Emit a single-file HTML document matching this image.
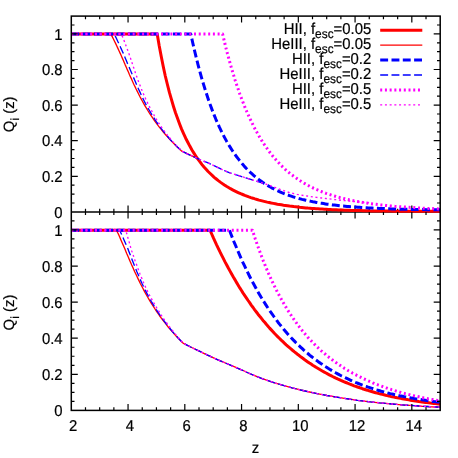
<!DOCTYPE html>
<html><head><meta charset="utf-8"><title>Q_i(z)</title>
<style>html,body{margin:0;padding:0;background:#fff;}body{width:458px;height:458px;position:relative;overflow:hidden;font-family:"Liberation Sans",sans-serif;}</style></head>
<body>
<svg width="458" height="458" viewBox="0 0 458 458" style="position:absolute;left:0;top:0;will-change:transform">
<defs><clipPath id="ct"><rect x="71.3" y="16.1" width="369.5" height="197.3"/></clipPath><clipPath id="cb"><rect x="71.3" y="211.9" width="369.5" height="200.0"/></clipPath></defs>
<line x1="71.3" y1="211.9" x2="440.2" y2="211.9" stroke="#000" stroke-width="1.5"/>
<path d="M85.49,211.9 v-3.2 M99.68,211.9 v-3.2 M113.87,211.9 v-3.2 M128.05,211.9 v-6.5 M142.24,211.9 v-3.2 M156.43,211.9 v-3.2 M170.62,211.9 v-3.2 M184.81,211.9 v-6.5 M199.00,211.9 v-3.2 M213.19,211.9 v-3.2 M227.37,211.9 v-3.2 M241.56,211.9 v-6.5 M255.75,211.9 v-3.2 M269.94,211.9 v-3.2 M284.13,211.9 v-3.2 M298.32,211.9 v-6.5 M312.50,211.9 v-3.2 M326.69,211.9 v-3.2 M340.88,211.9 v-3.2 M355.07,211.9 v-6.5 M369.26,211.9 v-3.2 M383.45,211.9 v-3.2 M397.64,211.9 v-3.2 M411.82,211.9 v-6.5 M426.01,211.9 v-3.2" stroke="#000" stroke-width="1.2" fill="none"/>
<g clip-path="url(#ct)" fill="none" stroke-linejoin="round">
<path d="M71.3,34.0 L157.2,34.0 L159.2,45.8 L161.3,56.7 L163.3,66.7 L165.3,76.0 L167.4,84.5 L169.4,92.4 L171.5,99.7 L173.5,106.5 L175.5,112.8 L177.6,118.6 L179.6,124.0 L181.6,129.1 L183.7,133.8 L185.7,138.2 L187.8,142.3 L189.8,146.1 L191.8,149.7 L193.9,153.1 L195.9,156.2 L197.9,159.2 L200.0,161.9 L202.0,164.6 L204.0,167.0 L206.1,169.3 L208.1,171.5 L210.2,173.5 L212.2,175.4 L214.2,177.3 L216.3,179.0 L218.3,180.6 L220.3,182.1 L222.4,183.6 L224.4,185.0 L226.4,186.3 L228.5,187.5 L230.5,188.7 L232.6,189.8 L234.6,190.8 L236.6,191.8 L238.7,192.8 L240.7,193.7 L242.7,194.5 L244.8,195.4 L246.8,196.1 L248.9,196.9 L250.9,197.6 L252.9,198.2 L255.0,198.9 L257.0,199.5 L259.0,200.1 L261.1,200.6 L263.1,201.1 L265.1,201.6 L267.2,202.1 L269.2,202.5 L271.3,203.0 L273.3,203.4 L275.3,203.8 L277.4,204.2 L279.4,204.5 L281.4,204.8 L283.5,205.2 L285.5,205.5 L287.5,205.8 L289.6,206.1 L291.6,206.3 L293.7,206.6 L295.7,206.8 L297.7,207.0 L299.8,207.3 L301.8,207.5 L303.8,207.7 L305.9,207.9 L307.9,208.1 L310.0,208.2 L312.0,208.4 L314.0,208.5 L316.1,208.7 L318.1,208.8 L320.1,209.0 L322.2,209.1 L324.2,209.2 L326.2,209.3 L328.3,209.5 L330.3,209.6 L332.4,209.7 L334.4,209.8 L336.4,209.8 L338.5,209.9 L340.5,210.0 L342.5,210.1 L344.6,210.2 L346.6,210.2 L348.6,210.3 L350.7,210.4 L352.7,210.4 L354.8,210.5 L356.8,210.5 L358.8,210.6 L360.9,210.6 L362.9,210.7 L364.9,210.7 L367.0,210.8 L369.0,210.8 L371.1,210.9 L373.1,210.9 L375.1,210.9 L377.2,211.0 L379.2,211.0 L381.2,211.0 L383.3,211.0 L385.3,211.1 L387.3,211.1 L389.4,211.1 L391.4,211.1 L393.5,211.2 L395.5,211.2 L397.5,211.2 L399.6,211.2 L401.6,211.2 L403.6,211.2 L405.7,211.3 L407.7,211.3 L409.7,211.3 L411.8,211.3 L413.8,211.3 L415.9,211.3 L417.9,211.3 L419.9,211.3 L422.0,211.3 L424.0,211.3 L426.0,211.3 L428.1,211.3 L430.1,211.3 L432.2,211.3 L434.2,211.3 L436.2,211.3 L438.3,211.3 L440.3,211.3" stroke="#ff0000" stroke-width="3.0"/>
<path d="M71.3,34.0 L110.9,34.0 L112.1,36.4 L113.3,38.8 L114.5,41.2 L115.7,43.6 L116.8,46.0 L117.9,48.4 L119.0,50.7 L120.1,53.1 L121.2,55.5 L122.2,57.9 L123.3,60.3 L124.3,62.7 L125.3,65.1 L126.4,67.5 L127.4,69.9 L128.5,72.3 L129.5,74.7 L130.6,77.1 L131.7,79.4 L132.7,81.8 L133.8,84.2 L135.0,86.6 L136.1,89.0 L137.3,91.4 L138.5,93.8 L139.7,96.2 L141.0,98.6 L142.3,101.0 L143.6,103.4 L145.0,105.8 L146.4,108.1 L147.8,110.5 L149.3,112.9 L150.9,115.3 L152.5,117.7 L154.1,120.1 L155.9,122.5 L157.6,124.9 L159.5,127.3 L161.4,129.7 L163.3,132.1 L165.4,134.5 L167.5,136.8 L169.7,139.2 L171.9,141.6 L174.3,144.0 L176.7,146.4 L179.2,148.8 L181.8,151.2 L197.1,158.3" stroke="#ff0000" stroke-width="1.35"/>
<path d="M71.3,34.0 L190.8,34.0 L192.6,42.2 L194.4,50.0 L196.2,57.5 L198.0,64.6 L199.8,71.3 L201.6,77.8 L203.4,83.9 L205.2,89.7 L207.0,95.3 L208.7,100.5 L210.5,105.6 L212.3,110.4 L214.1,114.9 L215.9,119.3 L217.7,123.4 L219.5,127.4 L221.3,131.1 L223.1,134.7 L224.9,138.1 L226.7,141.4 L228.5,144.5 L230.3,147.4 L232.1,150.2 L233.9,152.9 L235.7,155.5 L237.5,157.9 L239.3,160.2 L241.1,162.5 L242.9,164.6 L244.6,166.6 L246.4,168.5 L248.2,170.3 L250.0,172.1 L251.8,173.7 L253.6,175.3 L255.4,176.9 L257.2,178.3 L259.0,179.7 L260.8,181.0 L262.6,182.3 L264.4,183.5 L266.2,184.6 L268.0,185.7 L269.8,186.8 L271.6,187.8 L273.4,188.7 L275.2,189.6 L277.0,190.5 L278.8,191.3 L280.5,192.1 L282.3,192.9 L284.1,193.6 L285.9,194.3 L287.7,195.0 L289.5,195.6 L291.3,196.2 L293.1,196.8 L294.9,197.4 L296.7,197.9 L298.5,198.4 L300.3,198.9 L302.1,199.4 L303.9,199.8 L305.7,200.2 L307.5,200.6 L309.3,201.0 L311.1,201.4 L312.9,201.8 L314.7,202.1 L316.4,202.4 L318.2,202.8 L320.0,203.1 L321.8,203.3 L323.6,203.6 L325.4,203.9 L327.2,204.2 L329.0,204.4 L330.8,204.6 L332.6,204.9 L334.4,205.1 L336.2,205.3 L338.0,205.5 L339.8,205.7 L341.6,205.9 L343.4,206.0 L345.2,206.2 L347.0,206.4 L348.8,206.5 L350.6,206.7 L352.3,206.8 L354.1,207.0 L355.9,207.1 L357.7,207.2 L359.5,207.3 L361.3,207.5 L363.1,207.6 L364.9,207.7 L366.7,207.8 L368.5,207.9 L370.3,208.0 L372.1,208.1 L373.9,208.2 L375.7,208.3 L377.5,208.3 L379.3,208.4 L381.1,208.5 L382.9,208.6 L384.7,208.6 L386.5,208.7 L388.2,208.8 L390.0,208.8 L391.8,208.9 L393.6,209.0 L395.4,209.0 L397.2,209.1 L399.0,209.1 L400.8,209.2 L402.6,209.2 L404.4,209.3 L406.2,209.3 L408.0,209.3 L409.8,209.4 L411.6,209.4 L413.4,209.5 L415.2,209.5 L417.0,209.5 L418.8,209.6 L420.6,209.6 L422.4,209.6 L424.1,209.6 L425.9,209.7 L427.7,209.7 L429.5,209.7 L431.3,209.7 L433.1,209.8 L434.9,209.8 L436.7,209.8 L438.5,209.8 L440.3,209.8" stroke="#0000ff" stroke-width="3.0" stroke-dasharray="7.9,3.4"/>
<path d="M71.3,34.0 L114.2,34.0 L115.4,36.4 L116.6,38.8 L117.7,41.2 L118.9,43.6 L120.0,46.0 L121.0,48.4 L122.1,50.7 L123.2,53.1 L124.2,55.5 L125.2,57.9 L126.2,60.3 L127.2,62.7 L128.2,65.1 L129.3,67.5 L130.3,69.9 L131.3,72.3 L132.3,74.7 L133.3,77.1 L134.4,79.4 L135.4,81.8 L136.4,84.2 L137.4,86.6 L138.5,89.0 L139.6,91.4 L140.7,93.8 L141.8,96.2 L143.0,98.6 L144.2,101.0 L145.4,103.4 L146.7,105.8 L148.0,108.1 L149.4,110.5 L150.8,112.9 L152.3,115.3 L153.8,117.7 L155.3,120.1 L156.9,122.5 L158.6,124.9 L160.3,127.3 L162.1,129.7 L164.0,132.1 L165.9,134.5 L167.9,136.8 L170.0,139.2 L172.2,141.6 L174.5,144.0 L176.8,146.4 L179.3,148.8 L181.8,151.2 L181.8,151.2 L185.0,152.7 L188.2,154.3 L191.4,155.7 L194.6,157.2 L197.8,158.6 L201.0,160.0 L204.2,161.3 L207.5,162.7 L210.7,164.1 L213.9,165.6 L217.1,167.2 L220.3,168.7 L223.5,170.2 L226.7,171.6 L229.9,172.9 L233.1,173.9 L236.3,174.9 L239.5,175.8 L242.7,176.9 L245.9,177.9 L249.1,178.9 L252.3,179.9 L255.6,180.9 L258.8,181.9 L262.0,182.9 L265.2,183.9" stroke="#0000ff" stroke-width="1.35" stroke-dasharray="7.9,3.4"/>
<path d="M71.3,34.0 L222.6,34.0 L224.2,40.6 L225.7,47.0 L227.3,53.1 L228.9,58.9 L230.4,64.5 L232.0,69.9 L233.6,75.1 L235.1,80.1 L236.7,84.9 L238.3,89.5 L239.8,93.9 L241.4,98.2 L243.0,102.3 L244.5,106.2 L246.1,110.0 L247.7,113.6 L249.2,117.1 L250.8,120.4 L252.4,123.7 L253.9,126.8 L255.5,129.7 L257.1,132.6 L258.6,135.4 L260.2,138.0 L261.8,140.6 L263.3,143.1 L264.9,145.4 L266.5,147.7 L268.0,149.9 L269.6,152.0 L271.2,154.1 L272.7,156.0 L274.3,157.9 L275.9,159.7 L277.4,161.5 L279.0,163.1 L280.5,164.8 L282.1,166.3 L283.7,167.8 L285.2,169.3 L286.8,170.7 L288.4,172.0 L289.9,173.3 L291.5,174.6 L293.1,175.8 L294.6,177.0 L296.2,178.1 L297.8,179.2 L299.3,180.2 L300.9,181.2 L302.5,182.2 L304.0,183.1 L305.6,184.0 L307.2,184.9 L308.7,185.7 L310.3,186.6 L311.9,187.3 L313.4,188.1 L315.0,188.8 L316.6,189.5 L318.1,190.2 L319.7,190.9 L321.3,191.5 L322.8,192.1 L324.4,192.7 L326.0,193.3 L327.5,193.8 L329.1,194.4 L330.7,194.9 L332.2,195.4 L333.8,195.9 L335.4,196.3 L336.9,196.8 L338.5,197.2 L340.1,197.6 L341.6,198.0 L343.2,198.4 L344.8,198.8 L346.3,199.2 L347.9,199.5 L349.5,199.9 L351.0,200.2 L352.6,200.5 L354.2,200.9 L355.7,201.2 L357.3,201.4 L358.9,201.7 L360.4,202.0 L362.0,202.3 L363.6,202.5 L365.1,202.8 L366.7,203.0 L368.3,203.3 L369.8,203.5 L371.4,203.7 L373.0,203.9 L374.5,204.1 L376.1,204.3 L377.7,204.5 L379.2,204.7 L380.8,204.9 L382.4,205.0 L383.9,205.2 L385.5,205.4 L387.0,205.5 L388.6,205.7 L390.2,205.9 L391.7,206.0 L393.3,206.1 L394.9,206.3 L396.4,206.4 L398.0,206.5 L399.6,206.7 L401.1,206.8 L402.7,206.9 L404.3,207.0 L405.8,207.1 L407.4,207.2 L409.0,207.3 L410.5,207.4 L412.1,207.5 L413.7,207.6 L415.2,207.7 L416.8,207.8 L418.4,207.9 L419.9,208.0 L421.5,208.1 L423.1,208.2 L424.6,208.2 L426.2,208.3 L427.8,208.4 L429.3,208.5 L430.9,208.5 L432.5,208.6 L434.0,208.7 L435.6,208.7 L437.2,208.8 L438.7,208.9 L440.3,208.9" stroke="#ff00ff" stroke-width="3.0" stroke-dasharray="2.0,2.72"/>
<path d="M71.3,34.0 L121.4,34.0 L122.4,36.4 L123.4,38.8 L124.3,41.2 L125.2,43.6 L126.1,46.0 L127.0,48.4 L127.9,50.7 L128.7,53.1 L129.6,55.5 L130.4,57.9 L131.2,60.3 L132.0,62.7 L132.8,65.1 L133.6,67.5 L134.4,69.9 L135.2,72.3 L136.0,74.7 L136.9,77.1 L137.7,79.4 L138.6,81.8 L139.5,84.2 L140.5,86.6 L141.4,89.0 L142.4,91.4 L143.4,93.8 L144.5,96.2 L145.5,98.6 L146.7,101.0 L147.8,103.4 L149.0,105.8 L150.2,108.1 L151.5,110.5 L152.8,112.9 L154.1,115.3 L155.5,117.7 L156.9,120.1 L158.4,122.5 L160.0,124.9 L161.6,127.3 L163.3,129.7 L165.1,132.1 L166.9,134.5 L168.8,136.8 L170.7,139.2 L172.8,141.6 L175.0,144.0 L177.2,146.4 L179.6,148.8 L182.0,151.2 L181.8,151.2 L185.0,152.7 L188.2,154.3 L191.4,155.7 L194.6,157.2 L197.8,158.6 L201.0,160.0 L204.2,161.3 L207.5,162.7 L210.7,164.1 L213.9,165.6 L217.1,167.2 L220.3,168.7 L223.5,170.2 L226.7,171.6 L229.9,172.9 L233.1,173.9 L236.3,174.9 L239.5,175.8 L242.7,176.9 L245.9,177.9 L249.1,178.9 L252.3,179.9 L255.6,180.9 L258.8,181.9 L262.0,182.9 L265.2,183.9 L268.4,185.0 L271.6,186.2 L274.8,187.4 L278.0,188.6 L281.2,189.8 L284.4,190.9 L287.6,192.0 L290.8,192.9 L294.0,193.7 L297.2,194.4 L300.5,195.0 L303.7,195.5 L306.9,196.0 L310.1,196.5 L313.3,196.9 L316.5,197.4 L319.7,197.8 L322.9,198.1 L326.1,198.5 L329.3,198.9 L332.5,199.3 L335.7,199.7 L338.9,200.0 L342.1,200.4 L345.3,200.7 L348.6,201.0 L351.8,201.3 L355.0,201.6 L358.2,201.9 L361.4,202.2 L364.6,202.5 L367.8,202.7 L371.0,203.0" stroke="#ff00ff" stroke-width="1.35" stroke-dasharray="2.0,2.72"/>
</g>
<g clip-path="url(#cb)" fill="none" stroke-linejoin="round">
<path d="M71.3,230.2 L210.0,230.2 L211.7,234.0 L213.3,237.7 L215.0,241.3 L216.6,244.8 L218.3,248.3 L219.9,251.7 L221.6,255.1 L223.3,258.4 L224.9,261.6 L226.6,264.7 L228.2,267.8 L229.9,270.9 L231.5,273.8 L233.2,276.8 L234.9,279.6 L236.5,282.4 L238.2,285.2 L239.8,287.9 L241.5,290.5 L243.1,293.1 L244.8,295.6 L246.5,298.1 L248.1,300.5 L249.8,302.9 L251.4,305.3 L253.1,307.5 L254.7,309.8 L256.4,312.0 L258.0,314.2 L259.7,316.3 L261.4,318.3 L263.0,320.4 L264.7,322.3 L266.3,324.3 L268.0,326.2 L269.6,328.1 L271.3,329.9 L273.0,331.7 L274.6,333.5 L276.3,335.2 L277.9,336.9 L279.6,338.5 L281.2,340.1 L282.9,341.7 L284.6,343.3 L286.2,344.8 L287.9,346.3 L289.5,347.7 L291.2,349.1 L292.8,350.5 L294.5,351.9 L296.2,353.2 L297.8,354.6 L299.5,355.8 L301.1,357.1 L302.8,358.3 L304.4,359.5 L306.1,360.7 L307.8,361.9 L309.4,363.0 L311.1,364.1 L312.7,365.2 L314.4,366.2 L316.0,367.3 L317.7,368.3 L319.4,369.3 L321.0,370.2 L322.7,371.2 L324.3,372.1 L326.0,373.0 L327.6,373.9 L329.3,374.8 L330.9,375.6 L332.6,376.5 L334.3,377.3 L335.9,378.1 L337.6,378.9 L339.2,379.6 L340.9,380.4 L342.5,381.1 L344.2,381.8 L345.9,382.5 L347.5,383.2 L349.2,383.8 L350.8,384.5 L352.5,385.1 L354.1,385.8 L355.8,386.4 L357.5,387.0 L359.1,387.5 L360.8,388.1 L362.4,388.7 L364.1,389.2 L365.7,389.7 L367.4,390.2 L369.1,390.8 L370.7,391.2 L372.4,391.7 L374.0,392.2 L375.7,392.7 L377.3,393.1 L379.0,393.6 L380.7,394.0 L382.3,394.4 L384.0,394.8 L385.6,395.2 L387.3,395.6 L388.9,396.0 L390.6,396.4 L392.3,396.7 L393.9,397.1 L395.6,397.4 L397.2,397.8 L398.9,398.1 L400.5,398.4 L402.2,398.7 L403.8,399.0 L405.5,399.3 L407.2,399.6 L408.8,399.9 L410.5,400.2 L412.1,400.5 L413.8,400.7 L415.4,401.0 L417.1,401.2 L418.8,401.5 L420.4,401.7 L422.1,402.0 L423.7,402.2 L425.4,402.4 L427.0,402.6 L428.7,402.8 L430.4,403.1 L432.0,403.3 L433.7,403.5 L435.3,403.6 L437.0,403.8 L438.6,404.0 L440.3,404.2" stroke="#ff0000" stroke-width="3.0"/>
<path d="M71.3,230.2 L116.6,230.2 L117.6,232.5 L118.7,234.8 L119.7,237.1 L120.7,239.4 L121.7,241.7 L122.7,244.0 L123.7,246.3 L124.7,248.6 L125.7,250.9 L126.6,253.2 L127.6,255.5 L128.6,257.8 L129.6,260.2 L130.6,262.5 L131.6,264.8 L132.7,267.1 L133.7,269.4 L134.7,271.7 L135.8,274.0 L136.9,276.3 L138.0,278.6 L139.1,280.9 L140.2,283.2 L141.4,285.5 L142.6,287.8 L143.8,290.1 L145.0,292.4 L146.3,294.7 L147.6,297.0 L149.0,299.3 L150.3,301.6 L151.7,303.9 L153.2,306.2 L154.7,308.5 L156.2,310.8 L157.8,313.1 L159.4,315.5 L161.1,317.8 L162.8,320.1 L164.6,322.4 L166.4,324.7 L168.2,327.0 L170.2,329.3 L172.2,331.6 L174.2,333.9 L176.3,336.2 L178.5,338.5 L180.7,340.8 L183.0,343.1 L183.0,343.1 L187.4,345.3 L191.7,347.5 L196.1,349.6 L200.4,351.7 L204.8,353.8 L209.2,355.8 L213.5,357.8 L217.9,359.8 L222.2,361.7 L226.6,363.5 L231.0,365.4 L235.3,367.2 L239.7,369.1 L244.1,371.0 L248.4,373.0 L252.8,374.9 L257.1,376.6 L261.5,378.3 L265.9,379.9 L270.2,381.3 L274.6,382.8 L278.9,384.1 L283.3,385.4 L287.7,386.6 L292.0,387.8 L296.4,388.9 L300.7,390.0 L305.1,391.0 L309.5,392.0 L313.8,392.9 L318.2,393.8 L322.6,394.6 L326.9,395.5 L331.3,396.2 L335.6,397.0 L340.0,397.7 L344.4,398.4 L348.7,399.0 L353.1,399.7 L357.4,400.3 L361.8,400.8 L366.2,401.4 L370.5,401.9 L374.9,402.3 L379.2,402.8 L383.6,403.2 L388.0,403.7 L392.3,404.0 L396.7,404.4 L401.1,404.8 L405.4,405.1 L409.8,405.4 L414.1,405.7 L418.5,406.0 L422.9,406.3 L427.2,406.5 L431.6,406.8 L435.9,407.0 L440.3,407.2" stroke="#ff0000" stroke-width="1.35"/>
<path d="M71.3,230.2 L229.5,230.2 L231.0,234.2 L232.5,238.0 L234.0,241.8 L235.6,245.5 L237.1,249.2 L238.6,252.7 L240.1,256.2 L241.6,259.6 L243.1,262.9 L244.7,266.2 L246.2,269.3 L247.7,272.4 L249.2,275.5 L250.7,278.5 L252.2,281.4 L253.8,284.2 L255.3,287.0 L256.8,289.7 L258.3,292.4 L259.8,295.0 L261.3,297.5 L262.9,300.0 L264.4,302.5 L265.9,304.9 L267.4,307.2 L268.9,309.5 L270.4,311.7 L272.0,313.9 L273.5,316.0 L275.0,318.1 L276.5,320.2 L278.0,322.2 L279.5,324.1 L281.1,326.0 L282.6,327.9 L284.1,329.7 L285.6,331.5 L287.1,333.3 L288.6,335.0 L290.2,336.6 L291.7,338.3 L293.2,339.9 L294.7,341.4 L296.2,343.0 L297.7,344.5 L299.3,345.9 L300.8,347.3 L302.3,348.7 L303.8,350.1 L305.3,351.4 L306.8,352.8 L308.4,354.0 L309.9,355.3 L311.4,356.5 L312.9,357.7 L314.4,358.9 L315.9,360.0 L317.5,361.1 L319.0,362.2 L320.5,363.3 L322.0,364.3 L323.5,365.4 L325.0,366.4 L326.6,367.3 L328.1,368.3 L329.6,369.2 L331.1,370.1 L332.6,371.0 L334.1,371.9 L335.7,372.8 L337.2,373.6 L338.7,374.4 L340.2,375.2 L341.7,376.0 L343.2,376.7 L344.8,377.5 L346.3,378.2 L347.8,378.9 L349.3,379.6 L350.8,380.3 L352.3,381.0 L353.9,381.6 L355.4,382.3 L356.9,382.9 L358.4,383.5 L359.9,384.1 L361.4,384.7 L363.0,385.2 L364.5,385.8 L366.0,386.3 L367.5,386.9 L369.0,387.4 L370.5,387.9 L372.1,388.4 L373.6,388.9 L375.1,389.4 L376.6,389.8 L378.1,390.3 L379.6,390.7 L381.2,391.2 L382.7,391.6 L384.2,392.0 L385.7,392.4 L387.2,392.8 L388.7,393.2 L390.3,393.6 L391.8,393.9 L393.3,394.3 L394.8,394.7 L396.3,395.0 L397.8,395.3 L399.4,395.7 L400.9,396.0 L402.4,396.3 L403.9,396.6 L405.4,396.9 L406.9,397.2 L408.5,397.5 L410.0,397.8 L411.5,398.1 L413.0,398.3 L414.5,398.6 L416.0,398.9 L417.6,399.1 L419.1,399.4 L420.6,399.6 L422.1,399.8 L423.6,400.1 L425.1,400.3 L426.7,400.5 L428.2,400.7 L429.7,401.0 L431.2,401.2 L432.7,401.4 L434.2,401.6 L435.8,401.7 L437.3,401.9 L438.8,402.1 L440.3,402.3" stroke="#0000ff" stroke-width="3.0" stroke-dasharray="7.9,3.4"/>
<path d="M71.3,230.2 L119.7,230.2 L120.7,232.5 L121.8,234.8 L122.8,237.1 L123.8,239.4 L124.8,241.7 L125.8,244.0 L126.8,246.3 L127.8,248.6 L128.7,250.9 L129.6,253.2 L130.5,255.5 L131.4,257.8 L132.3,260.2 L133.2,262.5 L134.1,264.8 L135.0,267.1 L136.0,269.4 L136.9,271.7 L137.9,274.0 L138.9,276.3 L139.9,278.6 L140.9,280.9 L141.9,283.2 L143.0,285.5 L144.1,287.8 L145.2,290.1 L146.4,292.4 L147.6,294.7 L148.8,297.0 L150.1,299.3 L151.4,301.6 L152.8,303.9 L154.2,306.2 L155.6,308.5 L157.1,310.8 L158.6,313.1 L160.2,315.5 L161.8,317.8 L163.5,320.1 L165.2,322.4 L166.9,324.7 L168.7,327.0 L170.6,329.3 L172.5,331.6 L174.5,333.9 L176.6,336.2 L178.6,338.5 L180.8,340.8 L183.0,343.1 L183.0,343.1 L187.4,345.3 L191.7,347.5 L196.1,349.6 L200.4,351.7 L204.8,353.8 L209.2,355.8 L213.5,357.8 L217.9,359.8 L222.2,361.7 L226.6,363.5 L231.0,365.4 L235.3,367.2 L239.7,369.1 L244.1,371.0 L248.4,373.0 L252.8,374.9 L257.1,376.6 L261.5,378.3 L265.9,379.9 L270.2,381.3 L274.6,382.8 L278.9,384.1 L283.3,385.4 L287.7,386.6 L292.0,387.8 L296.4,388.9 L300.7,390.0 L305.1,391.0 L309.5,392.0 L313.8,392.9 L318.2,393.8 L322.6,394.6 L326.9,395.5 L331.3,396.2 L335.6,397.0 L340.0,397.7 L344.4,398.4 L348.7,399.0 L353.1,399.7 L357.4,400.3 L361.8,400.8 L366.2,401.4 L370.5,401.9 L374.9,402.3 L379.2,402.8 L383.6,403.2 L388.0,403.7 L392.3,404.0 L396.7,404.4 L401.1,404.8 L405.4,405.1 L409.8,405.4 L414.1,405.7 L418.5,406.0 L422.9,406.3 L427.2,406.5 L431.6,406.8 L435.9,407.0 L440.3,407.2" stroke="#0000ff" stroke-width="1.35" stroke-dasharray="7.9,3.4"/>
<path d="M71.3,230.2 L252.4,230.2 L253.8,234.4 L255.1,238.4 L256.5,242.4 L257.8,246.2 L259.2,250.0 L260.5,253.6 L261.9,257.2 L263.2,260.6 L264.6,264.0 L265.9,267.3 L267.3,270.5 L268.6,273.6 L270.0,276.6 L271.3,279.6 L272.7,282.5 L274.0,285.3 L275.4,288.0 L276.7,290.7 L278.1,293.3 L279.4,295.8 L280.8,298.3 L282.1,300.7 L283.5,303.1 L284.8,305.4 L286.2,307.6 L287.5,309.8 L288.9,312.0 L290.3,314.1 L291.6,316.1 L293.0,318.1 L294.3,320.0 L295.7,321.9 L297.0,323.8 L298.4,325.6 L299.7,327.4 L301.1,329.1 L302.4,330.8 L303.8,332.4 L305.1,334.0 L306.5,335.6 L307.8,337.2 L309.2,338.7 L310.5,340.1 L311.9,341.6 L313.2,343.0 L314.6,344.4 L315.9,345.7 L317.3,347.0 L318.6,348.3 L320.0,349.6 L321.3,350.8 L322.7,352.0 L324.0,353.2 L325.4,354.3 L326.7,355.5 L328.1,356.6 L329.5,357.7 L330.8,358.7 L332.2,359.8 L333.5,360.8 L334.9,361.8 L336.2,362.7 L337.6,363.7 L338.9,364.6 L340.3,365.5 L341.6,366.4 L343.0,367.3 L344.3,368.2 L345.7,369.0 L347.0,369.8 L348.4,370.7 L349.7,371.4 L351.1,372.2 L352.4,373.0 L353.8,373.7 L355.1,374.5 L356.5,375.2 L357.8,375.9 L359.2,376.6 L360.5,377.2 L361.9,377.9 L363.2,378.6 L364.6,379.2 L366.0,379.8 L367.3,380.4 L368.7,381.0 L370.0,381.6 L371.4,382.2 L372.7,382.8 L374.1,383.3 L375.4,383.9 L376.8,384.4 L378.1,384.9 L379.5,385.4 L380.8,385.9 L382.2,386.4 L383.5,386.9 L384.9,387.4 L386.2,387.9 L387.6,388.3 L388.9,388.8 L390.3,389.2 L391.6,389.7 L393.0,390.1 L394.3,390.5 L395.7,390.9 L397.0,391.3 L398.4,391.7 L399.7,392.1 L401.1,392.5 L402.4,392.9 L403.8,393.2 L405.2,393.6 L406.5,393.9 L407.9,394.3 L409.2,394.6 L410.6,395.0 L411.9,395.3 L413.3,395.6 L414.6,395.9 L416.0,396.2 L417.3,396.5 L418.7,396.8 L420.0,397.1 L421.4,397.4 L422.7,397.7 L424.1,398.0 L425.4,398.2 L426.8,398.5 L428.1,398.8 L429.5,399.0 L430.8,399.3 L432.2,399.5 L433.5,399.8 L434.9,400.0 L436.2,400.2 L437.6,400.5 L438.9,400.7 L440.3,400.9" stroke="#ff00ff" stroke-width="3.0" stroke-dasharray="2.0,2.72"/>
<path d="M71.3,230.2 L125.7,230.2 L126.4,232.5 L127.1,234.8 L127.7,237.1 L128.4,239.4 L129.1,241.7 L129.7,244.0 L130.3,246.3 L131.0,248.6 L131.7,250.9 L132.5,253.2 L133.3,255.5 L134.1,257.8 L134.9,260.2 L135.8,262.5 L136.6,264.8 L137.4,267.1 L138.3,269.4 L139.2,271.7 L140.0,274.0 L140.9,276.3 L141.9,278.6 L142.8,280.9 L143.8,283.2 L144.8,285.5 L145.9,287.8 L147.0,290.1 L148.1,292.4 L149.3,294.7 L150.5,297.0 L151.8,299.3 L153.1,301.6 L154.4,303.9 L155.7,306.2 L157.1,308.5 L158.6,310.8 L160.0,313.1 L161.5,315.5 L163.0,317.8 L164.6,320.1 L166.3,322.4 L168.0,324.7 L169.7,327.0 L171.5,329.3 L173.4,331.6 L175.3,333.9 L177.2,336.2 L179.1,338.5 L181.1,340.8 L183.2,343.1 L183.0,343.1 L187.4,345.3 L191.7,347.5 L196.1,349.6 L200.4,351.7 L204.8,353.8 L209.2,355.8 L213.5,357.8 L217.9,359.8 L222.2,361.7 L226.6,363.5 L231.0,365.4 L235.3,367.2 L239.7,369.1 L244.1,371.0 L248.4,373.0 L252.8,374.9 L257.1,376.6 L261.5,378.3 L265.9,379.9 L270.2,381.3 L274.6,382.8 L278.9,384.1 L283.3,385.4 L287.7,386.6 L292.0,387.8 L296.4,388.9 L300.7,390.0 L305.1,391.0 L309.5,392.0 L313.8,392.9 L318.2,393.8 L322.6,394.6 L326.9,395.5 L331.3,396.2 L335.6,397.0 L340.0,397.7 L344.4,398.4 L348.7,399.0 L353.1,399.7 L357.4,400.3 L361.8,400.8 L366.2,401.4 L370.5,401.9 L374.9,402.3 L379.2,402.8 L383.6,403.2 L388.0,403.7 L392.3,404.0 L396.7,404.4 L401.1,404.8 L405.4,405.1 L409.8,405.4 L414.1,405.7 L418.5,406.0 L422.9,406.3 L427.2,406.5 L431.6,406.8 L435.9,407.0 L440.3,407.2" stroke="#ff00ff" stroke-width="1.35" stroke-dasharray="2.0,2.72"/>
</g>
<rect x="71.3" y="16.1" width="368.9" height="394.29999999999995" fill="none" stroke="#000" stroke-width="1.5"/>
<path d="M85.49,16.1 v3.2 M85.49,211.9 v3.2 M85.49,410.4 v-3.2 M99.68,16.1 v3.2 M99.68,211.9 v3.2 M99.68,410.4 v-3.2 M113.87,16.1 v3.2 M113.87,211.9 v3.2 M113.87,410.4 v-3.2 M128.05,16.1 v6.5 M128.05,211.9 v6.5 M128.05,410.4 v-6.5 M142.24,16.1 v3.2 M142.24,211.9 v3.2 M142.24,410.4 v-3.2 M156.43,16.1 v3.2 M156.43,211.9 v3.2 M156.43,410.4 v-3.2 M170.62,16.1 v3.2 M170.62,211.9 v3.2 M170.62,410.4 v-3.2 M184.81,16.1 v6.5 M184.81,211.9 v6.5 M184.81,410.4 v-6.5 M199.00,16.1 v3.2 M199.00,211.9 v3.2 M199.00,410.4 v-3.2 M213.19,16.1 v3.2 M213.19,211.9 v3.2 M213.19,410.4 v-3.2 M227.37,16.1 v3.2 M227.37,211.9 v3.2 M227.37,410.4 v-3.2 M241.56,16.1 v6.5 M241.56,211.9 v6.5 M241.56,410.4 v-6.5 M255.75,16.1 v3.2 M255.75,211.9 v3.2 M255.75,410.4 v-3.2 M269.94,16.1 v3.2 M269.94,211.9 v3.2 M269.94,410.4 v-3.2 M284.13,16.1 v3.2 M284.13,211.9 v3.2 M284.13,410.4 v-3.2 M298.32,16.1 v6.5 M298.32,211.9 v6.5 M298.32,410.4 v-6.5 M312.50,16.1 v3.2 M312.50,211.9 v3.2 M312.50,410.4 v-3.2 M326.69,16.1 v3.2 M326.69,211.9 v3.2 M326.69,410.4 v-3.2 M340.88,16.1 v3.2 M340.88,211.9 v3.2 M340.88,410.4 v-3.2 M355.07,16.1 v6.5 M355.07,211.9 v6.5 M355.07,410.4 v-6.5 M369.26,16.1 v3.2 M369.26,211.9 v3.2 M369.26,410.4 v-3.2 M383.45,16.1 v3.2 M383.45,211.9 v3.2 M383.45,410.4 v-3.2 M397.64,16.1 v3.2 M397.64,211.9 v3.2 M397.64,410.4 v-3.2 M411.82,16.1 v6.5 M411.82,211.9 v6.5 M411.82,410.4 v-6.5 M426.01,16.1 v3.2 M426.01,211.9 v3.2 M426.01,410.4 v-3.2 M71.3,203.00 h3.2 M440.2,203.00 h-3.2 M71.3,194.10 h3.2 M440.2,194.10 h-3.2 M71.3,185.20 h3.2 M440.2,185.20 h-3.2 M71.3,176.30 h6.5 M440.2,176.30 h-6.5 M71.3,167.40 h3.2 M440.2,167.40 h-3.2 M71.3,158.50 h3.2 M440.2,158.50 h-3.2 M71.3,149.60 h3.2 M440.2,149.60 h-3.2 M71.3,140.70 h6.5 M440.2,140.70 h-6.5 M71.3,131.80 h3.2 M440.2,131.80 h-3.2 M71.3,122.90 h3.2 M440.2,122.90 h-3.2 M71.3,114.00 h3.2 M440.2,114.00 h-3.2 M71.3,105.10 h6.5 M440.2,105.10 h-6.5 M71.3,96.20 h3.2 M440.2,96.20 h-3.2 M71.3,87.30 h3.2 M440.2,87.30 h-3.2 M71.3,78.40 h3.2 M440.2,78.40 h-3.2 M71.3,69.50 h6.5 M440.2,69.50 h-6.5 M71.3,60.60 h3.2 M440.2,60.60 h-3.2 M71.3,51.70 h3.2 M440.2,51.70 h-3.2 M71.3,42.80 h3.2 M440.2,42.80 h-3.2 M71.3,33.90 h6.5 M440.2,33.90 h-6.5 M71.3,25.00 h3.2 M440.2,25.00 h-3.2 M71.3,401.38 h3.2 M440.2,401.38 h-3.2 M71.3,392.35 h3.2 M440.2,392.35 h-3.2 M71.3,383.33 h3.2 M440.2,383.33 h-3.2 M71.3,374.31 h6.5 M440.2,374.31 h-6.5 M71.3,365.29 h3.2 M440.2,365.29 h-3.2 M71.3,356.26 h3.2 M440.2,356.26 h-3.2 M71.3,347.24 h3.2 M440.2,347.24 h-3.2 M71.3,338.22 h6.5 M440.2,338.22 h-6.5 M71.3,329.20 h3.2 M440.2,329.20 h-3.2 M71.3,320.17 h3.2 M440.2,320.17 h-3.2 M71.3,311.15 h3.2 M440.2,311.15 h-3.2 M71.3,302.13 h6.5 M440.2,302.13 h-6.5 M71.3,293.10 h3.2 M440.2,293.10 h-3.2 M71.3,284.08 h3.2 M440.2,284.08 h-3.2 M71.3,275.06 h3.2 M440.2,275.06 h-3.2 M71.3,266.04 h6.5 M440.2,266.04 h-6.5 M71.3,257.01 h3.2 M440.2,257.01 h-3.2 M71.3,247.99 h3.2 M440.2,247.99 h-3.2 M71.3,238.97 h3.2 M440.2,238.97 h-3.2 M71.3,229.95 h6.5 M440.2,229.95 h-6.5 M71.3,220.92 h3.2 M440.2,220.92 h-3.2" stroke="#000" stroke-width="1.2" fill="none"/>
<line x1="380.2" y1="30.2" x2="422.3" y2="30.2" stroke="#ff0000" stroke-width="3.0"/>
<line x1="380.2" y1="45.12" x2="422.3" y2="45.12" stroke="#ff0000" stroke-width="1.35"/>
<line x1="380.2" y1="60.04" x2="422.3" y2="60.04" stroke="#0000ff" stroke-width="3.0" stroke-dasharray="7.9,3.4"/>
<line x1="380.2" y1="74.96" x2="422.3" y2="74.96" stroke="#0000ff" stroke-width="1.35" stroke-dasharray="7.9,3.4"/>
<line x1="380.2" y1="89.88" x2="422.3" y2="89.88" stroke="#ff00ff" stroke-width="3.0" stroke-dasharray="2.0,2.72"/>
<line x1="380.2" y1="104.8" x2="422.3" y2="104.8" stroke="#ff00ff" stroke-width="1.35" stroke-dasharray="2.0,2.72"/>
<g font-family="Liberation Sans, sans-serif" font-size="14.9" fill="#000" stroke="#000" stroke-width="0.2" text-rendering="geometricPrecision">
<text transform="translate(371.3,34.1) scale(1,1.06)" text-anchor="end">HII, f<tspan dy="3.6" font-size="11.9">esc</tspan><tspan dy="-3.6">=0.05</tspan></text>
<text transform="translate(371.3,49.0) scale(1,1.06)" text-anchor="end">HeIII, f<tspan dy="3.6" font-size="11.9">esc</tspan><tspan dy="-3.6">=0.05</tspan></text>
<text transform="translate(371.3,63.9) scale(1,1.06)" text-anchor="end">HII, f<tspan dy="3.6" font-size="11.9">esc</tspan><tspan dy="-3.6">=0.2</tspan></text>
<text transform="translate(371.3,78.9) scale(1,1.06)" text-anchor="end">HeIII, f<tspan dy="3.6" font-size="11.9">esc</tspan><tspan dy="-3.6">=0.2</tspan></text>
<text transform="translate(371.3,93.8) scale(1,1.06)" text-anchor="end">HII, f<tspan dy="3.6" font-size="11.9">esc</tspan><tspan dy="-3.6">=0.5</tspan></text>
<text transform="translate(371.3,108.7) scale(1,1.06)" text-anchor="end">HeIII, f<tspan dy="3.6" font-size="11.9">esc</tspan><tspan dy="-3.6">=0.5</tspan></text>
<text transform="translate(62.6,217.5) scale(1,1.06)" text-anchor="end">0</text>
<text transform="translate(62.6,181.9) scale(1,1.06)" text-anchor="end">0.2</text>
<text transform="translate(62.6,146.3) scale(1,1.06)" text-anchor="end">0.4</text>
<text transform="translate(62.6,110.7) scale(1,1.06)" text-anchor="end">0.6</text>
<text transform="translate(62.6,75.1) scale(1,1.06)" text-anchor="end">0.8</text>
<text transform="translate(62.6,39.5) scale(1,1.06)" text-anchor="end">1</text>
<text transform="translate(62.6,416.0) scale(1,1.06)" text-anchor="end">0</text>
<text transform="translate(62.6,379.9) scale(1,1.06)" text-anchor="end">0.2</text>
<text transform="translate(62.6,343.8) scale(1,1.06)" text-anchor="end">0.4</text>
<text transform="translate(62.6,307.7) scale(1,1.06)" text-anchor="end">0.6</text>
<text transform="translate(62.6,271.6) scale(1,1.06)" text-anchor="end">0.8</text>
<text transform="translate(62.6,235.5) scale(1,1.06)" text-anchor="end">1</text>
<text transform="translate(73.2,430.7) scale(1,1.06)" text-anchor="middle">2</text>
<text transform="translate(130.0,430.7) scale(1,1.06)" text-anchor="middle">4</text>
<text transform="translate(186.7,430.7) scale(1,1.06)" text-anchor="middle">6</text>
<text transform="translate(243.5,430.7) scale(1,1.06)" text-anchor="middle">8</text>
<text transform="translate(300.3,430.7) scale(1,1.06)" text-anchor="middle">10</text>
<text transform="translate(357.1,430.7) scale(1,1.06)" text-anchor="middle">12</text>
<text transform="translate(413.8,430.7) scale(1,1.06)" text-anchor="middle">14</text>
<text transform="translate(255.5,452.7) scale(1,1.06)" text-anchor="middle">z</text>
<text transform="translate(13.8,114.3) rotate(-90)" text-anchor="middle">Q<tspan dy="5.0" font-size="11.9">i</tspan><tspan dy="-5.0"> (z)</tspan></text>
<text transform="translate(13.8,312.5) rotate(-90)" text-anchor="middle">Q<tspan dy="5.0" font-size="11.9">i</tspan><tspan dy="-5.0"> (z)</tspan></text>
</g>
</svg>
</body></html>
